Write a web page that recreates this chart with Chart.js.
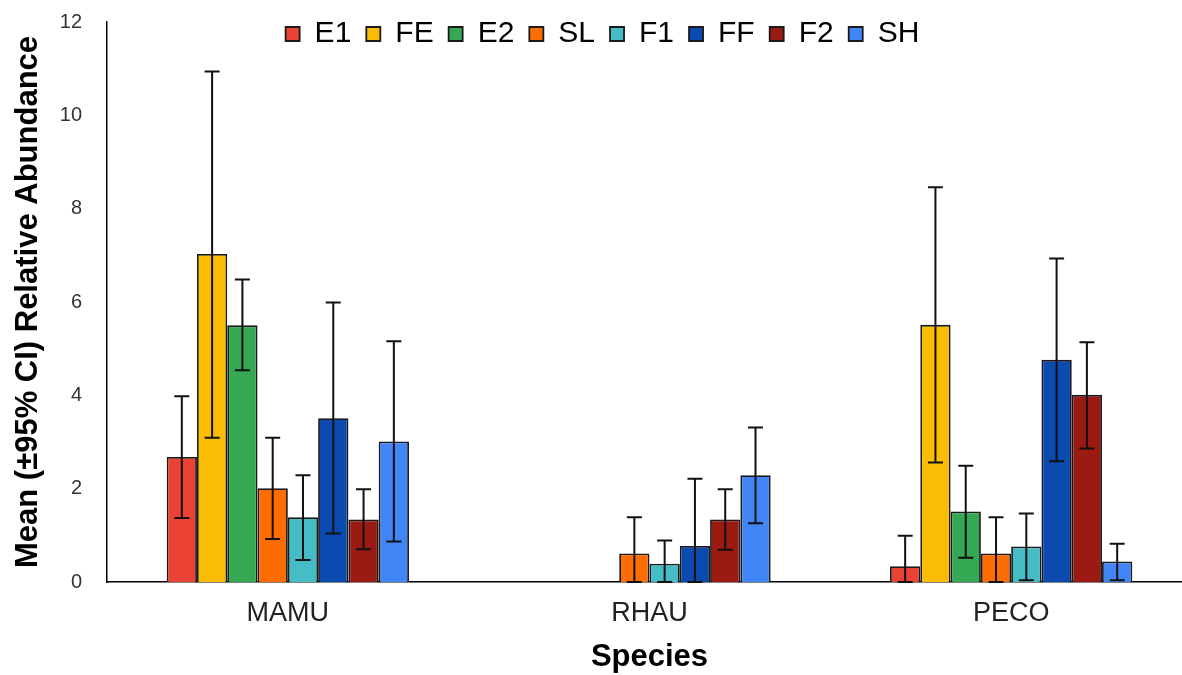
<!DOCTYPE html>
<html>
<head>
<meta charset="utf-8">
<script src="https://cdn.jsdelivr.net/npm/chart.js@4/dist/chart.umd.min.js"></script>
<style>
html,body{margin:0;padding:0;overflow:hidden;background:#fff;width:1182px;height:675px}
canvas{display:block}
</style>
</head>
<body>
<canvas id="c" width="1192" height="675"></canvas>
<script>
// ---- data ----
const categories = ['MAMU', 'RHAU', 'PECO'];
const seriesNames = ['E1', 'FE', 'E2', 'SL', 'F1', 'FF', 'F2', 'SH'];
const seriesColors = ['#EA4335', '#FBBC04', '#34A853', '#FF6D01', '#46BDC6', '#0B4AAF', '#9B1B13', '#4285F4'];
const yTicks = [0, 2, 4, 6, 8, 10, 12];

const E1 = [2.68, 0, 0.34];    const E1_low = [1.37, null, 0];      const E1_high = [3.98, null, 0.99];
const FE = [7.03, 0, 5.51];    const FE_low = [3.09, null, 2.56];   const FE_high = [10.94, null, 8.46];
const E2 = [5.50, 0, 1.51];    const E2_low = [4.54, null, 0.52];   const E2_high = [6.48, null, 2.49];
const SL = [2.01, 0.61, 0.61]; const SL_low = [0.92, 0, 0];         const SL_high = [3.09, 1.39, 1.39];
const F1 = [1.39, 0.39, 0.76]; const F1_low = [0.47, 0, 0.04];      const F1_high = [2.29, 0.89, 1.47];
const FF = [3.51, 0.77, 4.76]; const FF_low = [1.04, 0, 2.59];      const FF_high = [5.99, 2.21, 6.93];
const F2 = [1.34, 1.34, 4.01]; const F2_low = [0.70, 0.69, 2.86];   const F2_high = [1.99, 1.99, 5.14];
const SH = [3.01, 2.29, 0.44]; const SH_low = [0.87, 1.26, 0.04];   const SH_high = [5.16, 3.31, 0.82];

const means = [E1, FE, E2, SL, F1, FF, F2, SH];
const lows = [E1_low, FE_low, E2_low, SL_low, F1_low, FF_low, F2_low, SH_low];
const highs = [E1_high, FE_high, E2_high, SL_high, F1_high, FF_high, F2_high, SH_high];

const FONT = "'Liberation Sans', Arial, sans-serif";
const LEGEND_SPACE = 22;
const LEGEND_SHIFT = 4;

const datasets = seriesNames.map((name, i) => ({
  label: name,
  data: means[i],
  ciLow: lows[i],
  ciHigh: highs[i],
  backgroundColor: seriesColors[i],
  borderColor: '#1a1a1a',
  borderWidth: 1.8,
  barPercentage: 1.0,
  categoryPercentage: 0.67
}));

// error bars drawn from the y scale
const errorBars = {
  id: 'errorBars',
  afterDatasetsDraw(chart) {
    const ctx = chart.ctx;
    const ys = chart.scales.y;
    ctx.save();
    ctx.strokeStyle = '#111';
    ctx.lineWidth = 2;
    chart.data.datasets.forEach((ds, i) => {
      const meta = chart.getDatasetMeta(i);
      meta.data.forEach((bar, j) => {
        const lo = ds.ciLow[j], hi = ds.ciHigh[j];
        if (lo == null || hi == null) return;
        const x = bar.x;
        const yl = ys.getPixelForValue(lo);
        const yh = ys.getPixelForValue(hi);
        const cap = 7.5;
        ctx.beginPath();
        ctx.moveTo(x, yl); ctx.lineTo(x, yh);
        ctx.moveTo(x - cap, yh); ctx.lineTo(x + cap, yh);
        ctx.moveTo(x - cap, yl); ctx.lineTo(x + cap, yl);
        ctx.stroke();
      });
    });
    ctx.restore();
  }
};

// legend overlaps the top of the plot like the original: reserve only a small band, no clipping
const legendOverlay = {
  id: 'legendOverlay',
  beforeUpdate(chart) {
    const lg = chart.legend;
    if (!lg || lg.__patched) return;
    const origFit = lg.fit;
    lg.fit = function () { origFit.call(this); this.height = LEGEND_SPACE; };
    lg.draw = function () {
      if (!this.options.display) return;
      this.ctx.save();
      this.ctx.translate(0, LEGEND_SHIFT);
      this._draw();
      this.ctx.restore();
    };
    lg.__patched = true;
  }
};

new Chart(document.getElementById('c'), {
  type: 'bar',
  data: { labels: categories, datasets },
  options: {
    responsive: false,
    animation: false,
    layout: { padding: { left: 13, right: 0, top: 0, bottom: 0 } },
    plugins: {
      legend: {
        position: 'top',
        align: 'center',
        labels: {
          font: { family: FONT, size: 30 },
          color: '#000',
          boxWidth: 14,
          boxHeight: 14,
          padding: 15
        }
      },
      tooltip: { enabled: false }
    },
    scales: {
      x: {
        grid: { display: false, drawTicks: false },
        border: { display: true, color: '#000', width: 1.5 },
        ticks: {
          font: { family: FONT, size: 27 },
          color: '#222',
          padding: 15
        },
        title: {
          display: true,
          text: 'Species',
          font: { family: FONT, size: 31, weight: 'bold', lineHeight: 1.1 },
          color: '#000',
          padding: { top: 0, bottom: 0 }
        },
        afterFit(scale) {
          scale.height = 93;
          scale.paddingLeft = 0; scale.paddingRight = 0;
        }
      },
      y: {
        min: 0,
        max: 12,
        afterBuildTicks(scale) { scale.ticks = yTicks.map(v => ({ value: v })); },
        grid: { display: false, drawTicks: false },
        border: { display: true, color: '#000', width: 1.5 },
        ticks: {
          font: { family: FONT, size: 20 },
          color: '#333',
          padding: 25
        },
        title: {
          display: true,
          text: 'Mean (±95% CI) Relative Abundance',
          font: { family: FONT, size: 31, weight: 'bold', lineHeight: 1 },
          color: '#000',
          padding: { top: 0, bottom: 0 }
        },
        afterFit(scale) {
          scale.width = 94;
          scale.paddingTop = 0; scale.paddingBottom = 0;
        }
      }
    }
  },
  plugins: [legendOverlay, errorBars]
});
</script>
</body>
</html>
